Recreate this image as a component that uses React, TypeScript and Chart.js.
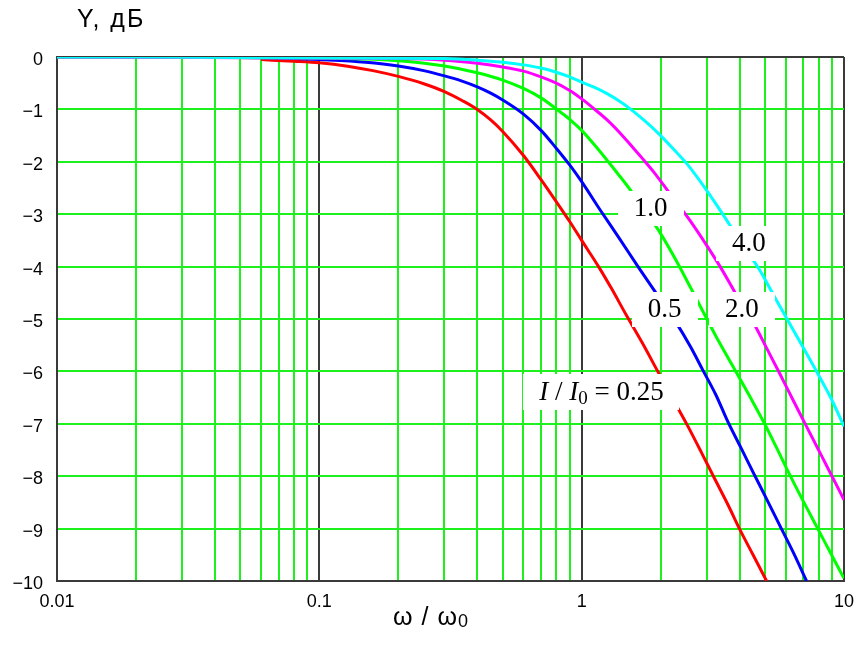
import { useEffect, useRef } from 'react';
import { Chart, registerables } from 'chart.js';

Chart.register(...registerables);

// ---- data ----
const RED_X = [0.06, 0.08, 0.1, 0.13, 0.16, 0.2, 0.25, 0.3, 0.35, 0.4, 0.45, 0.5, 0.6, 0.7, 0.8, 0.9, 1.0, 1.16, 1.3, 1.47, 1.7, 1.95, 2.2, 2.53, 2.85, 3.2, 3.6, 4.02, 4.5, 5.07];
const RED_Y = [-0.05, -0.08, -0.11, -0.18, -0.26, -0.37, -0.51, -0.66, -0.83, -1.0, -1.2, -1.42, -1.88, -2.34, -2.76, -3.14, -3.5, -4.0, -4.42, -4.9, -5.45, -6.0, -6.48, -7.03, -7.53, -8.03, -8.53, -9.03, -9.5, -10.0];

const BLUE_X = [0.01, 0.05, 0.08, 0.1, 0.15, 0.2, 0.25, 0.3, 0.35, 0.4, 0.45, 0.5, 0.6, 0.7, 0.8, 0.9, 1.0, 1.18, 1.4, 1.64, 1.95, 2.28, 2.6, 2.9, 3.25, 3.6, 4.05, 4.52, 5.1, 5.69, 6.4, 7.2];
const BLUE_Y = [0, -0.01, -0.03, -0.05, -0.1, -0.17, -0.26, -0.36, -0.46, -0.57, -0.69, -0.82, -1.09, -1.4, -1.74, -2.06, -2.38, -2.93, -3.48, -4.0, -4.55, -5.05, -5.53, -5.98, -6.45, -6.95, -7.46, -7.94, -8.46, -8.94, -9.45, -10.0];

const GREEN_X = [0.01, 0.1, 0.2, 0.3, 0.4, 0.5, 0.6, 0.7, 0.8, 0.9, 1.0, 1.12, 1.25, 1.4, 1.54, 1.78, 2.0, 2.32, 2.6, 2.93, 3.35, 3.87, 4.4, 4.97, 5.55, 6.18, 7.0, 7.94, 8.9, 10];
const GREEN_Y = [0, -0.02, -0.07, -0.17, -0.3, -0.44, -0.6, -0.78, -0.99, -1.19, -1.4, -1.68, -1.97, -2.28, -2.55, -3.0, -3.37, -3.93, -4.4, -4.9, -5.45, -6.0, -6.5, -6.99, -7.47, -7.95, -8.48, -9.0, -9.47, -9.95];

const MAGENTA_X = [0.01, 0.2, 0.3, 0.4, 0.5, 0.6, 0.7, 0.8, 0.9, 1.0, 1.11, 1.25, 1.4, 1.55, 1.7, 1.9, 2.15, 2.57, 3.0, 3.39, 3.9, 4.55, 5.1, 5.7, 6.4, 7.16, 8.0, 9.0, 10];
const MAGENTA_Y = [0, -0.03, -0.06, -0.12, -0.19, -0.27, -0.38, -0.5, -0.64, -0.8, -0.98, -1.2, -1.45, -1.7, -1.93, -2.22, -2.58, -3.1, -3.6, -4.02, -4.55, -5.1, -5.58, -6.05, -6.55, -7.03, -7.5, -8.0, -8.45];

const CYAN_X = [0.01, 0.3, 0.4, 0.5, 0.6, 0.7, 0.8, 0.9, 1.0, 1.12, 1.25, 1.4, 1.54, 1.75, 2.0, 2.25, 2.53, 3.0, 3.45, 4.0, 4.75, 5.4, 6.1, 7.0, 7.9, 9.0, 10];
const CYAN_Y = [0, -0.03, -0.06, -0.1, -0.15, -0.21, -0.29, -0.38, -0.48, -0.58, -0.7, -0.85, -1.0, -1.23, -1.5, -1.77, -2.05, -2.55, -3.0, -3.5, -4.05, -4.55, -5.02, -5.55, -6.02, -6.55, -7.05];

// x grid values (log scale) and labelled decades
const X_GRID = [0.01, 0.02, 0.03, 0.04, 0.05, 0.06, 0.07, 0.08, 0.09, 0.1, 0.2, 0.3, 0.4, 0.5, 0.6, 0.7, 0.8, 0.9, 1, 2, 3, 4, 5, 6, 7, 8, 9, 10];
const X_DECADES = [0.01, 0.1, 1, 10];
const X_DECADE_LABELS = ['0.01', '0.1', '1', '10'];

// curve labels (placed in data coordinates)
const CURVE_LABELS = ['1.0', '4.0', '0.5', '2.0'];
const CURVE_LABEL_X = [1.83, 4.34, 2.07, 4.08];
const CURVE_LABEL_Y = [-2.86, -3.53, -4.79, -4.79];
const PARAM_LABEL_X = 1.19;
const PARAM_LABEL_Y = -6.38;

const Y_TITLE = 'Y, дБ';

const GRID_GREEN = 'rgb(30,240,30)';
const DARK = '#3a3a3a';

const pts = (xs: number[], ys: number[]) => xs.map((x, i) => ({ x, y: ys[i] }));
const isDecade = (v: number) => X_DECADES.some((d) => Math.abs(d - v) / d < 1e-6);

const SERIF = '"Liberation Serif", "Times New Roman", serif';
const SANS = '"Liberation Sans", Arial, sans-serif';

const textPlugin = {
  id: 'texts',
  afterDatasetsDraw(chart: any) {
    const ctx = chart.ctx as CanvasRenderingContext2D;
    const xs = chart.scales.x;
    const ys = chart.scales.y;
    ctx.save();
    ctx.textBaseline = 'alphabetic';
    ctx.textAlign = 'left';
    const mainFont = '27px ' + SERIF;
    CURVE_LABELS.forEach((t, i) => {
      const cx = xs.getPixelForValue(CURVE_LABEL_X[i]);
      const cy = ys.getPixelForValue(CURVE_LABEL_Y[i]);
      ctx.font = mainFont;
      const w = ctx.measureText(t).width;
      ctx.fillStyle = '#ffffff';
      ctx.fillRect(Math.round(cx - w / 2 - 16), Math.round(cy - 16), Math.round(w + 32), 35);
      ctx.fillStyle = '#000000';
      ctx.fillText(t, cx - w / 2, cy + 9);
    });
    const parts = [
      { t: 'I', f: 'italic 27px ' + SERIF, dy: 0 },
      { t: ' / ', f: '27px ' + SERIF, dy: 0 },
      { t: 'I', f: 'italic 27px ' + SERIF, dy: 0 },
      { t: '0', f: '19px ' + SERIF, dy: 4 },
      { t: ' = 0.25', f: '27px ' + SERIF, dy: 0 },
    ];
    let total = 0;
    const widths = parts.map((p) => {
      ctx.font = p.f;
      const w = ctx.measureText(p.t).width;
      total += w;
      return w;
    });
    const pcx = xs.getPixelForValue(PARAM_LABEL_X);
    const pcy = ys.getPixelForValue(PARAM_LABEL_Y);
    ctx.fillStyle = '#ffffff';
    ctx.fillRect(Math.round(pcx - total / 2 - 16), Math.round(pcy - 17), Math.round(total + 32), 36);
    ctx.fillStyle = '#000000';
    let x0 = pcx - total / 2;
    parts.forEach((p, i) => {
      ctx.font = p.f;
      ctx.fillText(p.t, x0, pcy + 9 + p.dy);
      x0 += widths[i];
    });
    ctx.restore();
  },
  afterDraw(chart: any) {
    const ctx = chart.ctx as any;
    ctx.save();
    ctx.fillStyle = '#000000';
    ctx.textBaseline = 'alphabetic';
    ctx.textAlign = 'left';
    ctx.font = '25px ' + SANS;
    ctx.letterSpacing = '2px';
    ctx.fillText(Y_TITLE, 77, 27);
    ctx.letterSpacing = '1px';
    const main = 'ω / ω';
    const mw = ctx.measureText(main).width;
    ctx.font = '18px ' + SANS;
    const sw = ctx.measureText('0').width;
    const start = 431 - (mw + sw) / 2;
    ctx.font = '25px ' + SANS;
    ctx.fillText(main, start, 625);
    ctx.font = '18px ' + SANS;
    ctx.fillText('0', start + mw, 627);
    ctx.letterSpacing = '0px';
    ctx.restore();
  },
};

export default function App() {
  const ref = useRef<HTMLCanvasElement | null>(null);
  useEffect(() => {
    if (!ref.current) return;
    const mk = (label: string, xs: number[], ys: number[], color: string, order: number) => ({
      label,
      data: pts(xs, ys),
      borderColor: color,
      backgroundColor: color,
      borderWidth: 3,
      pointRadius: 0,
      fill: false,
      cubicInterpolationMode: 'monotone' as const,
      order,
    });
    const chart = new Chart(ref.current, {
      type: 'line',
      data: {
        datasets: [
          mk('0.25', RED_X, RED_Y, '#ff0000', 5),
          mk('0.5', BLUE_X, BLUE_Y, '#0000ff', 4),
          mk('1.0', GREEN_X, GREEN_Y, '#00ff00', 3),
          mk('2.0', MAGENTA_X, MAGENTA_Y, '#ff00ff', 2),
          mk('4.0', CYAN_X, CYAN_Y, '#00ffff', 1),
        ],
      },
      options: {
        responsive: false,
        animation: false,
        events: [],
        layout: { padding: { left: 0, right: 0, top: 57, bottom: 0 } },
        plugins: { legend: { display: false }, tooltip: { enabled: false }, title: { display: false } },
        scales: {
          x: {
            type: 'logarithmic',
            min: 0.01,
            max: 10,
            afterBuildTicks: (scale: any) => {
              scale.ticks = X_GRID.map((v) => ({ value: v, major: isDecade(v) }));
            },
            afterFit: (scale: any) => {
              scale.height = 65;
            },
            ticks: {
              autoSkip: false,
              maxRotation: 0,
              minRotation: 0,
              padding: 10,
              color: '#000000',
              font: { family: SANS, size: 18 },
              callback: (value: any) => {
                const v = Number(value);
                const idx = X_DECADES.findIndex((d) => Math.abs(d - v) / d < 1e-6);
                return idx >= 0 ? X_DECADE_LABELS[idx] : '';
              },
            },
            grid: {
              drawTicks: false,
              lineWidth: 2,
              color: (c: any) => (c.tick && isDecade(c.tick.value) ? DARK : GRID_GREEN),
            },
            border: { display: true, color: DARK, width: 2 },
          },
          y: {
            type: 'linear',
            min: -10,
            max: 0,
            afterFit: (scale: any) => {
              scale.width = 57;
            },
            ticks: {
              stepSize: 1,
              padding: 14,
              labelOffset: 3,
              color: '#000000',
              font: { family: SANS, size: 18 },
              callback: (value: any) => {
                const v = Number(value);
                return v < 0 ? '\u2212' + Math.abs(v) : String(v);
              },
            },
            grid: {
              drawTicks: false,
              lineWidth: 2,
              color: (c: any) => (c.tick && (c.tick.value === 0 || c.tick.value === -10) ? DARK : GRID_GREEN),
            },
            border: { display: true, color: DARK, width: 2 },
          },
        },
      },
      plugins: [textPlugin],
    });
    return () => chart.destroy();
  }, []);
  return (
    <div style={{ position: 'fixed', left: 0, top: 0, width: 858, height: 646, overflow: 'hidden', background: '#ffffff' }}>
      <canvas ref={ref} width={864} height={646} style={{ display: 'block', width: 864, height: 646 }} />
    </div>
  );
}
